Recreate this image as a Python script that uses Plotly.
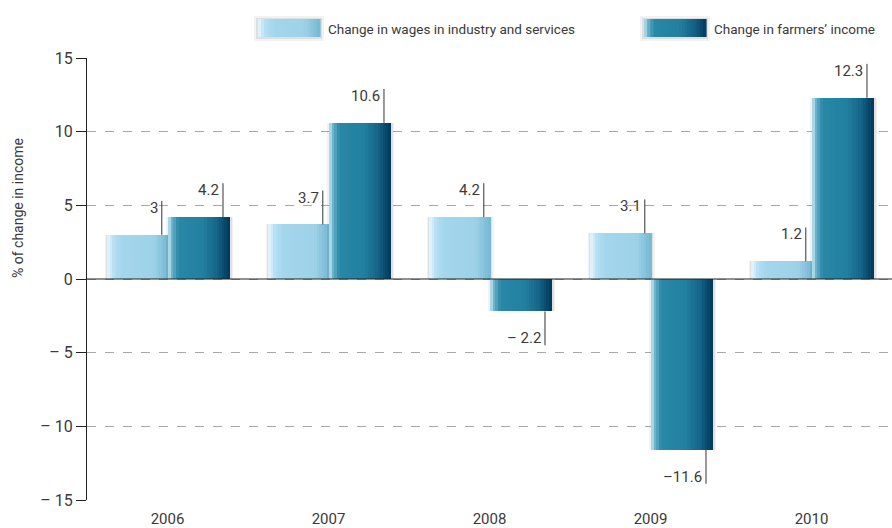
import plotly.graph_objects as go

years = ["2006", "2007", "2008", "2009", "2010"]
wages = [3.0, 3.7, 4.2, 3.1, 1.2]
farmers = [4.2, 10.6, -2.2, -11.6, 12.3]
wage_labels = ["3", "3.7", "4.2", "3.1", "1.2"]
farmer_labels = ["4.2", "10.6", "\u2013 2.2", "\u201311.6", "12.3"]
y_ticks = [-15, -10, -5, 0, 5, 10, 15]
y_ticklabels = ["\u2013 15", "\u2013 10", "\u2013 5", "0", "5", "10", "15"]
series_names = ["Change in wages in industry and services", "Change in farmers\u2019 income"]

FONT = "Roboto, Liberation Sans Narrow, sans-serif"
TXT = "#3a3a3a"

xs = list(range(len(years)))
BW = 0.38  # bar width in category units

light_stops = [(0.0, (232, 246, 252)), (0.12, (178, 222, 242)), (0.25, (163, 214, 237)),
               (0.75, (158, 210, 233)), (1.0, (118, 184, 210))]
dark_stops = [(0.0, (200, 232, 242)), (0.06, (110, 180, 205)), (0.16, (40, 136, 166)),
              (0.55, (34, 128, 160)), (0.8, (20, 100, 135)), (1.0, (0, 56, 92))]


def interp(stops, f):
    for (f0, c0), (f1, c1) in zip(stops[:-1], stops[1:]):
        if f0 <= f <= f1:
            t = 0 if f1 == f0 else (f - f0) / (f1 - f0)
            return "rgb(%d,%d,%d)" % tuple(round(a + (b - a) * t) for a, b in zip(c0, c1))
    return "rgb(%d,%d,%d)" % stops[-1][1]


N = 24
fig = go.Figure()


def add_series(vals, base_off, stops, name):
    for k, a in [(0.016, 0.05), (0.009, 0.07)]:
        fig.add_trace(go.Bar(x=xs, y=vals, offset=base_off - k + 0.004, width=BW + 2 * k,
                             marker=dict(color="rgba(0,0,0,%s)" % a, line=dict(width=0)),
                             showlegend=False, hoverinfo="skip"))
    for i in range(N):
        f0 = i / N
        fig.add_trace(go.Bar(x=xs, y=vals, offset=base_off + BW * f0, width=BW / N * 1.08,
                             marker=dict(color=interp(stops, (i + 0.5) / N), line=dict(width=0)),
                             name=name, showlegend=False, hoverinfo="skip"))


add_series(wages, -BW + 0.005, light_stops, series_names[0])
add_series(farmers, 0.005, dark_stops, series_names[1])

shapes = []
annotations = []
PX = 1 / 161.0
LL = 2.3
for i in xs:
    for vals, labs, off in [(wages, wage_labels, -BW + 0.005), (farmers, farmer_labels, 0.005)]:
        v = vals[i]
        lx = i + off + BW - 6.5 * PX
        if v >= 0:
            y0, y1 = v, v + LL
            yanchor = "top"
            ys = 4
        else:
            y0, y1 = v, v - LL
            yanchor = "bottom"
            ys = -4
        shapes.append(dict(type="line", xref="x", yref="y", x0=lx, x1=lx, y0=y0, y1=y1,
                           line=dict(color="#333333", width=1), layer="above"))
        annotations.append(dict(x=lx, y=y1, xref="x", yref="y", text=labs[i], showarrow=False,
                                xanchor="right", yanchor=yanchor, xshift=-2, yshift=ys,
                                font=dict(family=FONT, size=15, color=TXT)))

shapes.append(dict(type="line", xref="paper", yref="y", x0=0, x1=1, y0=0, y1=0,
                   line=dict(color="#222222", width=1.2), layer="above"))

L, T, PW, PH = 87, 58, 805, 442


def px_x(p):
    return (p - L) / PW


def px_y(p):
    return (T + PH - p) / PH


def swatch(x0_px, stops):
    W, H, top = 62, 18, 19
    for g, a in [(4, 0.05), (2, 0.08)]:
        shapes.append(dict(type="rect", xref="paper", yref="paper",
                           x0=px_x(x0_px - g), x1=px_x(x0_px + W + g),
                           y0=px_y(top + H + g), y1=px_y(top - g + 1),
                           line=dict(width=0), fillcolor="rgba(0,0,0,%s)" % a, layer="above"))
    n = 20
    for i in range(n):
        xa = x0_px + W * i / n
        xb = x0_px + W * (i + 1) / n + 0.6
        shapes.append(dict(type="rect", xref="paper", yref="paper",
                           x0=px_x(xa), x1=px_x(xb), y0=px_y(top + H), y1=px_y(top),
                           line=dict(width=0), fillcolor=interp(stops, (i + 0.5) / n), layer="above"))


swatch(258, light_stops)
swatch(644, dark_stops)
annotations.append(dict(x=px_x(326), y=px_y(29), xref="paper", yref="paper",
                        text=series_names[0], showarrow=False, xanchor="left", yanchor="middle",
                        font=dict(family=FONT, size=13.5, color=TXT)))
annotations.append(dict(x=px_x(712), y=px_y(29), xref="paper", yref="paper",
                        text=series_names[1], showarrow=False, xanchor="left", yanchor="middle",
                        font=dict(family=FONT, size=13.5, color=TXT)))
annotations.append(dict(x=px_x(18), y=px_y(208), xref="paper", yref="paper",
                        text="% of change in income", showarrow=False, textangle=-90,
                        xanchor="center", yanchor="middle",
                        font=dict(family=FONT, size=14, color=TXT)))

fig.update_layout(
    width=892, height=528,
    margin=dict(l=L, r=0, t=T, b=28, autoexpand=False),
    paper_bgcolor="white", plot_bgcolor="white",
    barmode="overlay", bargap=0,
    showlegend=False,
    shapes=shapes, annotations=annotations,
    font=dict(family=FONT, size=15, color=TXT),
    xaxis=dict(range=[-0.5, 4.5], tickvals=xs, ticktext=years, showgrid=False, zeroline=False,
               showline=False, ticks="", tickfont=dict(size=15, color=TXT), fixedrange=True,
               ticklabelstandoff=8, automargin=False),
    yaxis=dict(range=[-15, 15], tickvals=y_ticks, ticktext=y_ticklabels, showgrid=True,
               gridcolor="#a8a8a8", griddash="dash", gridwidth=1, zeroline=False,
               showline=True, linecolor="#222222", linewidth=1.2, ticks="outside", ticklen=10,
               tickcolor="#222222", tickfont=dict(size=16, color=TXT), automargin=False,
               fixedrange=True),
)

fig.write_html("out.html", config={"displayModeBar": False},
               post_script="document.body.style.margin='0';document.body.style.overflow='hidden';")
